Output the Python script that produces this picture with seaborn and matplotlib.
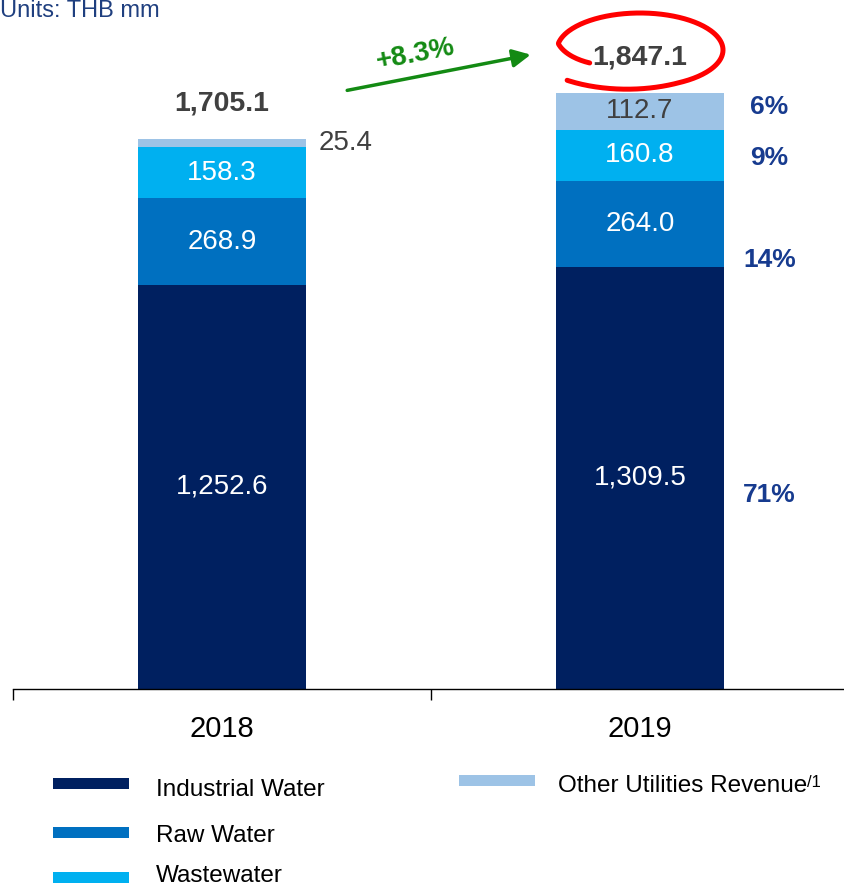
import numpy as np
import pandas as pd
import matplotlib as mpl
from matplotlib import pyplot as plt
from matplotlib.patches import Rectangle
import seaborn as sns

years = ['2018', '2019']
segments = ['Industrial Water', 'Raw Water', 'Wastewater', 'Other Utilities Revenue']
industrial = [1252.6, 1309.5]
raw_water = [268.9, 264.0]
wastewater = [158.3, 160.8]
other = [25.4, 112.7]
totals = [1705.1, 1847.1]
growth = '+8.3%'
shares_2019 = ['71%', '14%', '9%', '6%']

colors = ['#002060', '#0070C0', '#00B0F0', '#9DC3E6']
label_colors = ['white', 'white', 'white', '#404040']

sns.set_theme(style='white')
plt.rcParams['font.family'] = ['Liberation Sans', 'DejaVu Sans']

W, H = 845, 889
fig = plt.figure(figsize=(W / 100, H / 100), dpi=100)
ax = fig.add_axes([13 / W, (H - 689) / H, (W - 13) / W, 689 / H])

df = pd.DataFrame({'year': years, 'Industrial Water': industrial, 'Raw Water': raw_water,
                   'Wastewater': wastewater, 'Other Utilities Revenue': other})
vals = df[segments].to_numpy()
cum = vals.cumsum(axis=1)

# stacked bars: draw cumulative heights from the top segment down
for j in reversed(range(len(segments))):
    sns.barplot(x=df['year'], y=cum[:, j], color=colors[j], saturation=1,
                width=0.4, linewidth=0, errorbar=None, ax=ax)

ax.set_xlabel('')
ax.set_ylabel('')
ax.set_yticks([])
for s in ['top', 'right', 'left']:
    ax.spines[s].set_visible(False)
ax.spines['bottom'].set_color('black')
ax.spines['bottom'].set_linewidth(1)
ax.set_xticks([-0.5, 0.5, 1.5])
ax.set_xticklabels(['', '', ''])
ax.set_xticks([0, 1], minor=True)
ax.set_xticklabels(years, minor=True, fontsize=21, color='black')
ax.tick_params(axis='x', which='major', direction='out', length=8, width=1, color='black', bottom=True)
ax.tick_params(axis='x', which='minor', length=0, pad=19)
ax.set_ylim(0, 689 / 0.3226)
ax.set_xlim(-0.5, -0.5 + (W - 13) / 418)

# segment labels
for i in range(len(years)):
    bottoms = np.concatenate([[0], cum[i, :-1]])
    for j in range(len(segments)):
        v = vals[i, j]
        y = bottoms[j] + v / 2
        if v < 60:
            ax.text(i + 0.23, y, f'{v:,.1f}', ha='left', va='center', fontsize=20, color='#404040')
        else:
            ax.text(i, y, f'{v:,.1f}', ha='center', va='center', fontsize=20, color=label_colors[j])
    ax.text(i, totals[i] + 110, f'{totals[i]:,.1f}', ha='center', va='center',
            fontsize=20.5, fontweight='bold', color='#404040')

# share of 2019 revenue
bottoms = np.concatenate([[0], cum[1, :-1]])
shifts = [-54, -111, -8, 14]
for j, s in enumerate(shares_2019):
    ax.text(1.31, bottoms[j] + vals[1, j] / 2 + shifts[j], s, ha='center', va='center',
            fontsize=19, fontweight='bold', color='#173b8f')

# growth arrow
green = '#138a13'
ax.annotate('', xy=(0.745, 1968), xytext=(0.293, 1854),
            arrowprops=dict(arrowstyle='-|>,head_length=0.9,head_width=0.45', color=green, lw=2.5))
ax.text(0.463, 1968, growth, ha='center', va='center', rotation=11, fontsize=20,
        fontweight='bold', color=green)

# red hand-drawn loop around the 2019 total
t0, t1 = np.radians(210), np.radians(-137)
t = np.linspace(t0, t1, 240)
r = 0.7 + 0.3 * np.clip((t0 - t) / np.radians(40), 0, 1)
r = r + 0.2 * np.clip((np.radians(-60) - t) / np.radians(77), 0, 1) ** 1.5
lx = 1.0 + (83 / 418) * r * np.cos(t)
ly = 639 / 0.3226 + 37 / 0.3226 * r * np.sin(t)
ax.plot(lx, ly, color='#ff0000', lw=3.6, solid_capstyle='round', clip_on=False)

# units
fig.text(0, 1 - 11 / H, 'Units: THB mm', ha='left', va='center', fontsize=17, color='#1F3F7F')

# legend
def px(x, y):
    return x / W, 1 - y / H

legend_items = [(0, 53, 783, 156, 790), (1, 53, 832, 156, 836), (2, 53, 877, 156, 876),
                (3, 459, 780, 558, 786)]
for j, x0, yc, tx, ty in legend_items:
    fx, fy = px(x0, yc + 5.5)
    fig.add_artist(Rectangle((fx, fy), 76 / W, 11 / H, transform=fig.transFigure,
                             facecolor=colors[j], edgecolor='none'))
    lx_, ly_ = px(tx, ty)
    t_ = fig.text(lx_, ly_, segments[j], ha='left', va='center', fontsize=17.5, color='black')
    if j == 3:
        ax.annotate('/1', xy=(1, 1), xycoords=t_, ha='left', va='top', fontsize=12, color='black',
                    annotation_clip=False)

fig.savefig('out.png', dpi=100)
